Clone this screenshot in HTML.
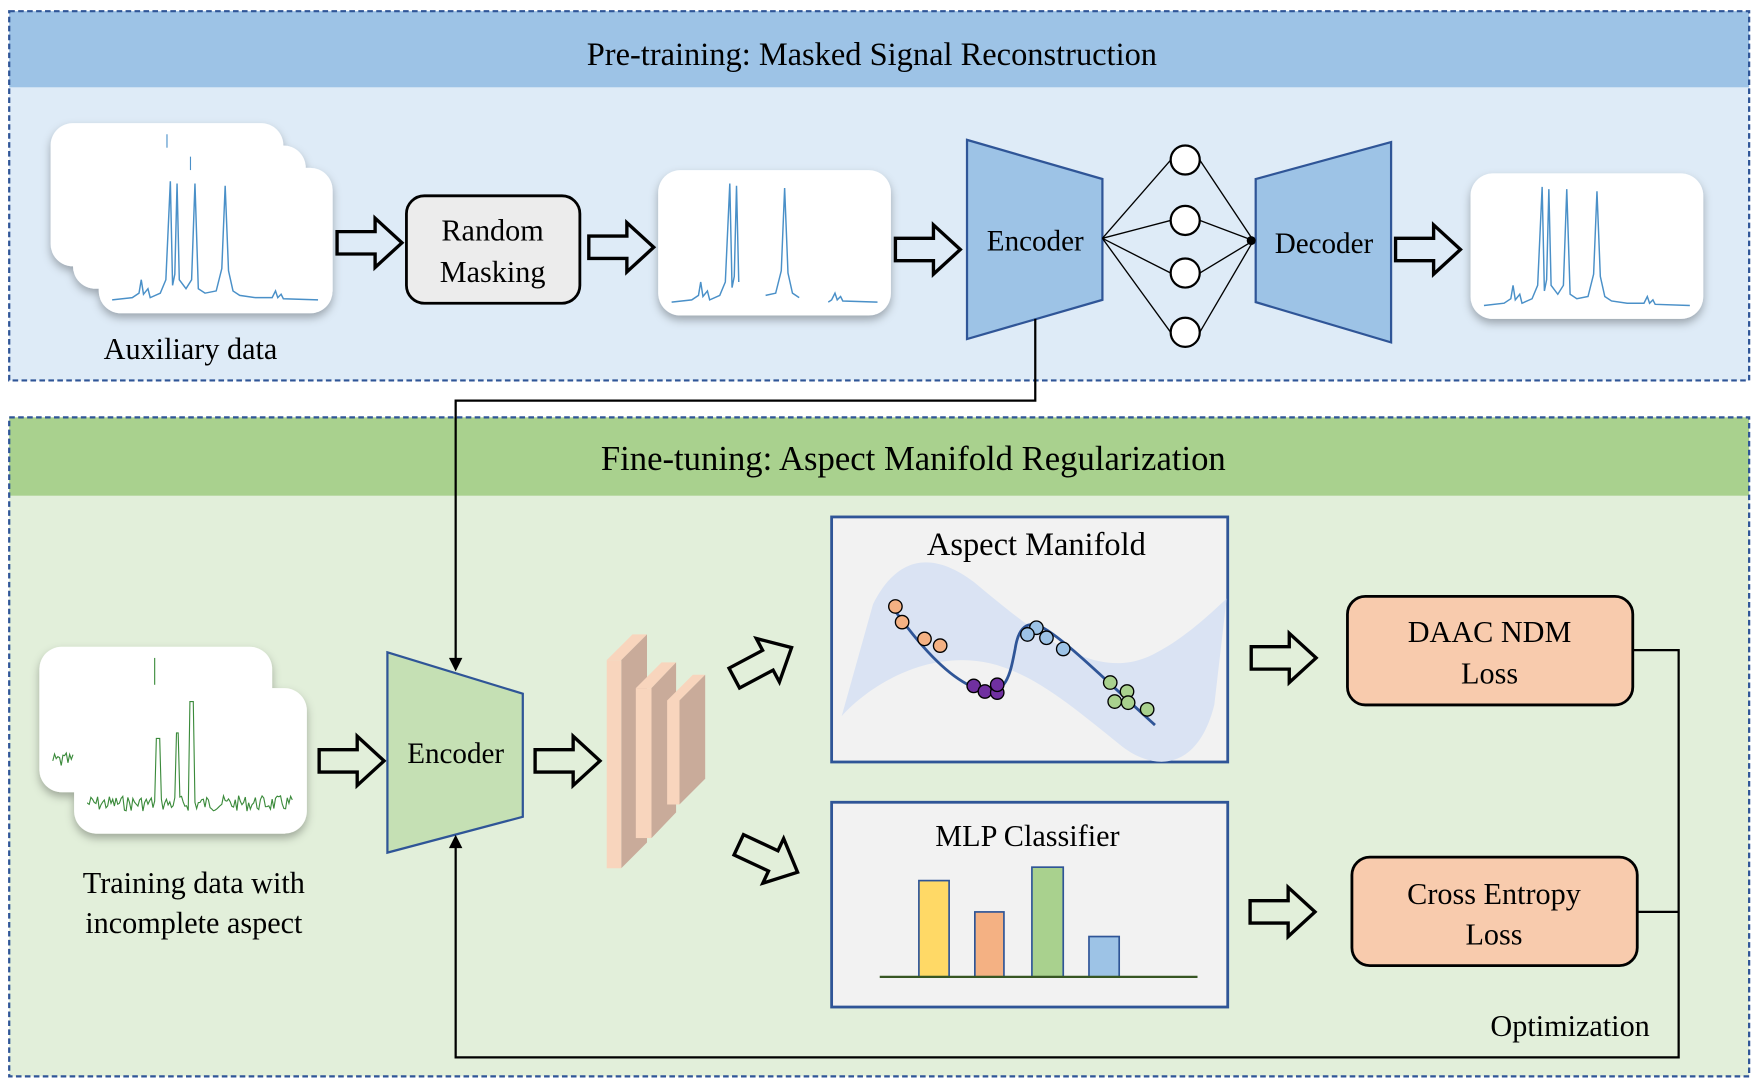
<!DOCTYPE html>
<html><head><meta charset="utf-8"><style>
html,body{margin:0;padding:0;background:#fff;}
svg{display:block;}
svg text{font-family:"Liberation Serif","Times New Roman","DejaVu Serif",serif;}
</style></head><body>
<svg width="1755" height="1082" viewBox="0 0 1568 967" xmlns="http://www.w3.org/2000/svg">
<defs>
<path id="arr" d="M0,-10 L34,-10 L34,-22 L58,0 L34,22 L34,10 L0,10 Z" fill="none" stroke="#000" stroke-width="3" stroke-linejoin="miter"/>
<filter id="sh" x="-20%" y="-20%" width="140%" height="150%"><feDropShadow dx="0" dy="4" stdDeviation="4" flood-color="#000" flood-opacity="0.3"/></filter>
<path id="spec" d="M12,118 L30,116 L36,112 L38,100 L40,113 L44,108 L46,116 L55,112 L60,100 L64,12 L66,105 L68,95 L70,14 L72,100 L78,108 L83,100 L86,14 L89,108 L95,112 L105,110 L110,90 L113,16 L116,92 L120,110 L126,114 L140,116 L155,116 L158,110 L160,116 L163,113 L165,117 L196,118" fill="none" stroke="#4a90c8" stroke-width="1.3"/>
</defs>
<rect x="8" y="10" width="1555" height="330" fill="#deebf7"/>
<rect x="8" y="10" width="1555" height="68" fill="#9dc3e6"/>
<rect x="8" y="10" width="1555" height="330" fill="none" stroke="#2f5597" stroke-width="2" stroke-dasharray="5,3"/>
<text x="779" y="58" font-size="29" text-anchor="middle">Pre-training: Masked Signal Reconstruction</text>
<rect x="8" y="373" width="1555" height="589" fill="#e2efda"/>
<rect x="8" y="373" width="1555" height="70" fill="#a9d18e"/>
<rect x="8" y="373" width="1555" height="589" fill="none" stroke="#2f5597" stroke-width="2" stroke-dasharray="5,3"/>
<text x="816" y="420" font-size="31" text-anchor="middle">Fine-tuning: Aspect Manifold Regularization</text>

<g filter="url(#sh)">
<rect x="45" y="110" width="208" height="128" rx="20" fill="#fff"/>
<rect x="65" y="130" width="208" height="128" rx="20" fill="#fff"/>
<rect x="88" y="150" width="209" height="130" rx="20" fill="#fff"/>
</g>
<line x1="149" y1="120" x2="149" y2="132" stroke="#4a90c8"/>
<line x1="170" y1="140" x2="170" y2="152" stroke="#4a90c8"/>
<use href="#spec" transform="translate(88,150)"/>
<text x="170" y="321" font-size="27" text-anchor="middle">Auxiliary data</text>
<use href="#arr" transform="translate(301,217)"/>
<rect x="363" y="175" width="155" height="96" rx="16" fill="#ececec" stroke="#000" stroke-width="2.5"/>
<text x="440" y="215" font-size="27" text-anchor="middle">Random</text>
<text x="440" y="252" font-size="27" text-anchor="middle">Masking</text>
<use href="#arr" transform="translate(526,221)"/>
<rect x="588" y="152" width="208" height="130" rx="20" fill="#fff" filter="url(#sh)"/>
<g transform="translate(588,152)">
<path d="M12,118 L30,116 L36,112 L38,100 L40,113 L44,108 L46,116 L55,112 L60,100 L64,12 L66,105 L68,95 L70,14 L72,100" fill="none" stroke="#4a90c8" stroke-width="1.3"/>
<path d="M96,112 L105,110 L110,90 L113,16 L116,92 L120,110 L126,114" fill="none" stroke="#4a90c8" stroke-width="1.3"/>
<path d="M152,118 L155,116 L158,110 L160,116 L163,113 L165,117 L196,118" fill="none" stroke="#4a90c8" stroke-width="1.3"/>
</g>
<use href="#arr" transform="translate(800,223)"/>
<polygon points="864,125 985,160 985,268 864,303" fill="#9dc3e6" stroke="#2f5597" stroke-width="2"/>
<text x="925" y="224" font-size="26" text-anchor="middle">Encoder</text>
<g stroke="#000" stroke-width="1.2" fill="none">
<line x1="985" y1="213" x2="1046" y2="143"/><line x1="985" y1="213" x2="1046" y2="197"/>
<line x1="985" y1="213" x2="1046" y2="244"/><line x1="985" y1="213" x2="1046" y2="297"/>
<line x1="1072" y1="143" x2="1120" y2="215"/><line x1="1072" y1="197" x2="1120" y2="215"/>
<line x1="1072" y1="244" x2="1120" y2="215"/><line x1="1072" y1="297" x2="1120" y2="215"/>
</g>
<g fill="#fff" stroke="#000" stroke-width="2">
<circle cx="1059" cy="143" r="13"/><circle cx="1059" cy="197" r="13"/><circle cx="1059" cy="244" r="13"/><circle cx="1059" cy="297" r="13"/>
</g>
<polygon points="1122,160 1243,127 1243,306 1122,270" fill="#9dc3e6" stroke="#2f5597" stroke-width="2"/>
<circle cx="1118" cy="215" r="4" fill="#000"/>
<text x="1183" y="226" font-size="26" text-anchor="middle">Decoder</text>
<use href="#arr" transform="translate(1247,223)"/>
<rect x="1314" y="155" width="208" height="130" rx="20" fill="#fff" filter="url(#sh)"/>
<use href="#spec" transform="translate(1314,155)"/>

<polyline points="925,285 925,358 407,358 407,590" fill="none" stroke="#000" stroke-width="2"/>
<polygon points="401,588 413,588 407,600" fill="#000"/>

<g filter="url(#sh)">
<rect x="35" y="578" width="208" height="130" rx="20" fill="#fff"/>
<rect x="66" y="615" width="208" height="130" rx="20" fill="#fff"/>
</g>
<line x1="138" y1="588" x2="138" y2="612" stroke="#3a8a3a"/>
<path id="gn" d="" fill="none" stroke="#3a8a3a" stroke-width="1"/>
<path id="gn2" d="" fill="none" stroke="#3a8a3a" stroke-width="1"/>
<text x="173" y="798" font-size="27" text-anchor="middle">Training data with</text>
<text x="173" y="834" font-size="27" text-anchor="middle">incomplete aspect</text>
<use href="#arr" transform="translate(285,680)"/>
<polygon points="346,583 467,620 467,730 346,762" fill="#c5e0b4" stroke="#2f5597" stroke-width="2"/>
<text x="407" y="682" font-size="26" text-anchor="middle">Encoder</text>
<use href="#arr" transform="translate(478,680)"/>
<g>
<polygon points="542,590 565,567 578,567 555,590" fill="#f8d5bd"/>
<polygon points="555,590 578,567 578,753 555,776" fill="#c9ab9a"/>
<rect x="542" y="590" width="13" height="186" fill="#f8d5bd"/>
<polygon points="568,615 591,592 604,592 582,615" fill="#f8d5bd"/>
<polygon points="582,615 604,592 604,726 582,749" fill="#c9ab9a"/>
<rect x="568" y="615" width="14" height="134" fill="#f8d5bd"/>
<polygon points="596,626 619,603 630,603 607,626" fill="#f8d5bd"/>
<polygon points="607,626 630,603 630,696 607,719" fill="#c9ab9a"/>
<rect x="596" y="626" width="11" height="93" fill="#f8d5bd"/>
</g>
<use href="#arr" transform="translate(656,606) rotate(-28)"/>
<use href="#arr" transform="translate(660,755) rotate(25)"/>
<rect x="743" y="462" width="354" height="219" fill="#f2f2f2" stroke="#2f5597" stroke-width="2.5"/>
<text x="926" y="496" font-size="29" text-anchor="middle">Aspect  Manifold</text>
<path d="M752,640 L780,540 C800,500 830,490 870,520 C930,570 980,610 1030,585 C1060,570 1085,545 1096,535 L1085,630 C1070,690 1030,690 1000,665 C950,625 910,590 860,590 C810,590 770,620 752,640 Z" fill="#dae3f3"/>
<path d="M797,542 C820,575 850,610 878,617 C900,622 903,600 907,580 C910,560 918,555 930,560 C950,570 990,610 1032,648" fill="none" stroke="#2f5597" stroke-width="2.5"/>
<g stroke="#000" stroke-width="1.2">
<g fill="#f4b183"><circle cx="800" cy="542" r="6"/><circle cx="806" cy="556" r="6"/><circle cx="826" cy="571" r="6"/><circle cx="840" cy="577" r="6"/></g>
<g fill="#7030a0"><circle cx="870" cy="613" r="6"/><circle cx="880" cy="618" r="6"/><circle cx="891" cy="619" r="6"/><circle cx="891" cy="612" r="6"/></g>
<g fill="#9dc3e6"><circle cx="926" cy="561" r="6"/><circle cx="918" cy="567" r="6"/><circle cx="935" cy="570" r="6"/><circle cx="950" cy="580" r="6"/></g>
<g fill="#a9d18e"><circle cx="992" cy="610" r="6"/><circle cx="1007" cy="618" r="6"/><circle cx="996" cy="627" r="6"/><circle cx="1008" cy="628" r="6"/><circle cx="1025" cy="634" r="6"/></g>
</g>
<rect x="743" y="717" width="354" height="183" fill="#f2f2f2" stroke="#2f5597" stroke-width="2.5"/>
<text x="918" y="756" font-size="27" text-anchor="middle">MLP Classifier</text>
<g stroke="#2f5597" stroke-width="1.5">
<rect x="821" y="787" width="27" height="86" fill="#ffd966"/>
<rect x="871" y="815" width="26" height="58" fill="#f4b183"/>
<rect x="922" y="775" width="28" height="98" fill="#a9d18e"/>
<rect x="973" y="837" width="27" height="36" fill="#9dc3e6"/>
</g>
<line x1="786" y1="873" x2="1070" y2="873" stroke="#375623" stroke-width="2"/>
<use href="#arr" transform="translate(1118,588)"/>
<use href="#arr" transform="translate(1117,815)"/>
<rect x="1204" y="533" width="255" height="97" rx="16" fill="#f8cbad" stroke="#000" stroke-width="2.5"/>
<text x="1331" y="574" font-size="27" text-anchor="middle">DAAC NDM</text>
<text x="1331" y="611" font-size="27" text-anchor="middle">Loss</text>
<rect x="1208" y="766" width="255" height="97" rx="16" fill="#f8cbad" stroke="#000" stroke-width="2.5"/>
<text x="1335" y="808" font-size="27" text-anchor="middle">Cross Entropy</text>
<text x="1335" y="844" font-size="27" text-anchor="middle">Loss</text>
<polyline points="1459,581 1500,581 1500,945 407,945 407,755" fill="none" stroke="#000" stroke-width="2"/>
<line x1="1463" y1="815" x2="1500" y2="815" stroke="#000" stroke-width="2"/>
<polygon points="401,758 413,758 407,746" fill="#000"/>
<text x="1403" y="926" font-size="27" text-anchor="middle">Optimization</text>
</svg>
<script>
(function(){
var s=7;function r(){s=(s*9301+49297)%233280;return s/233280;}
function mk(x0,yb,w,peaks){var d="M"+x0+","+yb;for(var x=x0;x<=x0+w;x+=1.5){var y=yb+(r()-0.5)*14;peaks.forEach(function(p){if(Math.abs(x-p[0])<2)y=p[1];});d+=" L"+x.toFixed(1)+","+y.toFixed(1);}return d;}
document.getElementById("gn2").setAttribute("d",mk(78,718,184,[[141,660],[158,655],[171,627]]));
document.getElementById("gn").setAttribute("d",mk(47,680,18,[]));
})();
</script>
</body></html>
